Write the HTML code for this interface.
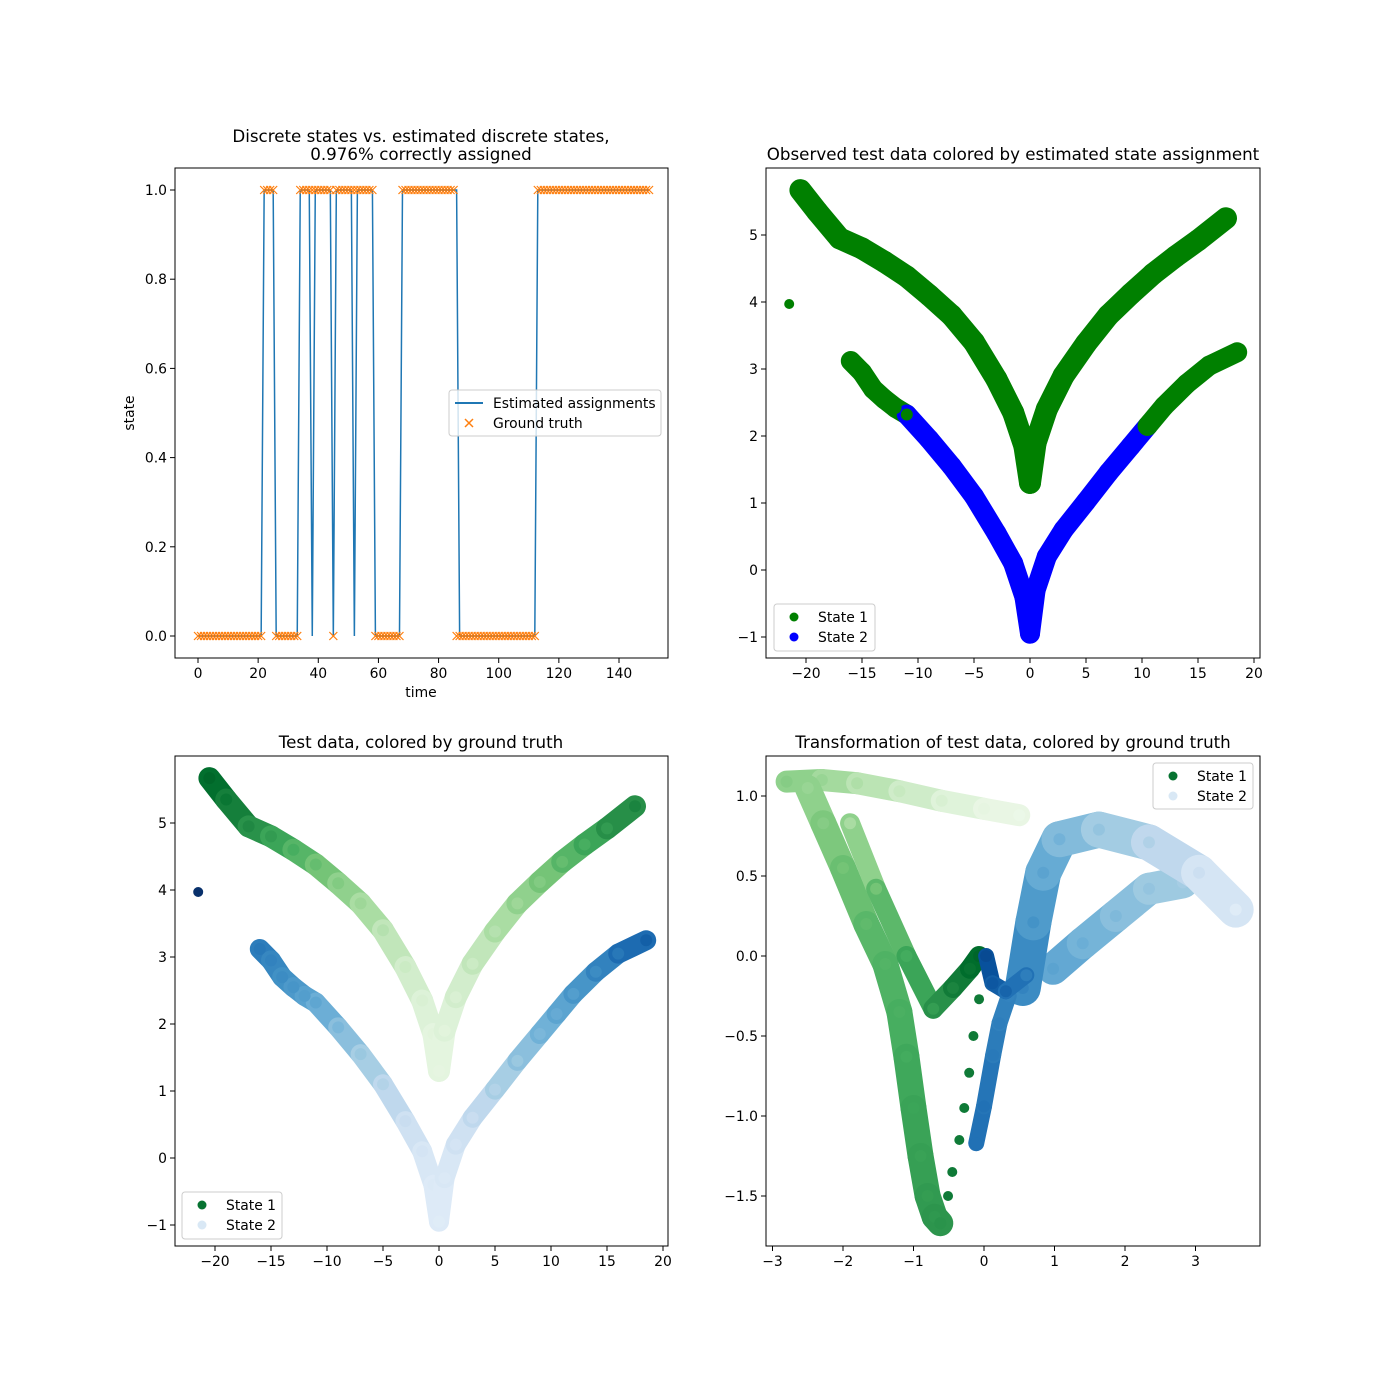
<!DOCTYPE html>
<html><head><meta charset="utf-8"><style>
body{margin:0;background:#fff}
svg{display:block;font-family:"DejaVu Sans","Liberation Sans",sans-serif}
</style></head><body>
<svg id="fig" width="1400" height="1400" viewBox="0 0 1400 1400" xmlns="http://www.w3.org/2000/svg">
<rect width="1400" height="1400" fill="#fff"/>
</svg>
<script>
// ---------- data: panel 1 ----------
const estStates = [0,0,0,0,0,0,0,0,0,0,0,0,0,0,0,0,0,0,0,0,0,0,1,1,1,1,0,0,0,0,0,0,0,0,1,1,1,1,0,1,1,1,1,1,1,0,1,1,1,1,1,1,0,1,1,1,1,1,1,0,0,0,0,0,0,0,0,0,1,1,1,1,1,1,1,1,1,1,1,1,1,1,1,1,1,1,1,0,0,0,0,0,0,0,0,0,0,0,0,0,0,0,0,0,0,0,0,0,0,0,0,0,0,1,1,1,1,1,1,1,1,1,1,1,1,1,1,1,1,1,1,1,1,1,1,1,1,1,1,1,1,1,1,1,1,1,1,1,1,1,1];
const truthStates = [0,0,0,0,0,0,0,0,0,0,0,0,0,0,0,0,0,0,0,0,0,0,1,1,1,1,0,0,0,0,0,0,0,0,1,1,1,1,1,1,1,1,1,1,1,0,1,1,1,1,1,1,1,1,1,1,1,1,1,0,0,0,0,0,0,0,0,0,1,1,1,1,1,1,1,1,1,1,1,1,1,1,1,1,1,1,0,0,0,0,0,0,0,0,0,0,0,0,0,0,0,0,0,0,0,0,0,0,0,0,0,0,0,1,1,1,1,1,1,1,1,1,1,1,1,1,1,1,1,1,1,1,1,1,1,1,1,1,1,1,1,1,1,1,1,1,1,1,1,1,1];
const p1XTicks = [0,20,40,60,80,100,120,140];
const p1YTicks = [0,0.2,0.4,0.6,0.8,1.0];
// ---------- data: observed branches (panels 2,3) ----------
const upLX = [-20.5,-19,-17,-15,-13,-11,-9,-7,-5,-3,-1.5,-0.5,0];
const upLY = [5.67,5.35,4.95,4.8,4.6,4.38,4.1,3.8,3.4,2.85,2.35,1.85,1.3];
const upRX = [0,0.5,1.5,3,5,7,9,11,13,15,17.5];
const upRY = [1.3,1.9,2.4,2.9,3.38,3.8,4.12,4.42,4.68,4.92,5.25];
const loLX = [-16,-15,-14,-13,-12,-11,-9,-7,-5,-3,-1.5,-0.5,0];
const loLY = [3.12,2.95,2.7,2.55,2.42,2.32,1.95,1.55,1.1,0.55,0.1,-0.4,-0.95];
const loRX = [0,0.5,1.5,3,5,7,9,10.5,12,14,16,18.5];
const loRY = [-0.95,-0.3,0.2,0.6,1.02,1.45,1.85,2.15,2.45,2.78,3.05,3.25];
const outX = [-21.5];
const outY = [3.97];
const estSplitLeft = -11;
const estSplitRight = 10.5;
const p2XTicks = [-20,-15,-10,-5,0,5,10,15,20];
const p2YTicks = [-1,0,1,2,3,4,5];
// ---------- data: transformation (panel 4) ----------
const tAX = [-2.8,-2.3,-1.8,-1.2,-0.6,0,0.5];
const tAY = [1.09,1.1,1.08,1.03,0.97,0.92,0.88];
const tAC = [0.45,0.4,0.33,0.25,0.18,0.12,0.08];
const tBX = [-2.5,-2.28,-2.0,-1.67,-1.4,-1.2,-1.1,-1.0,-0.9,-0.8,-0.7,-0.62];
const tBY = [1.05,0.83,0.55,0.2,-0.05,-0.35,-0.63,-0.95,-1.25,-1.5,-1.63,-1.67];
const tBC = [0.4,0.45,0.5,0.55,0.58,0.6,0.62,0.65,0.66,0.68,0.7,0.72];
const tCX = [-1.9,-1.53,-1.1,-0.72,-0.44,-0.2,-0.07];
const tCY = [0.83,0.42,0,-0.33,-0.2,-0.08,0];
const tCC = [0.35,0.5,0.62,0.68,0.78,0.85,0.9];
const tDX = [-0.51,-0.45,-0.35,-0.28,-0.21,-0.15,-0.07];
const tDY = [-1.5,-1.35,-1.15,-0.95,-0.73,-0.5,-0.27];
const tEX = [-0.11,0,0.13,0.22,0.35];
const tEY = [-1.17,-0.94,-0.62,-0.42,-0.25];
const tEC = [0.75,0.75,0.72,0.7,0.68];
const tFX = [0.03,0.12,0.31,0.6];
const tFY = [0,-0.17,-0.22,-0.12];
const tFC = [0.9,0.85,0.8,0.7];
const tGX = [0.55,0.7,0.84,1.07,1.63,2.34,3.05,3.57];
const tGY = [-0.2,0.21,0.52,0.73,0.79,0.71,0.52,0.29];
const tGC = [0.68,0.62,0.55,0.48,0.4,0.32,0.22,0.12];
const tHX = [0.98,1.4,1.87,2.34,2.82];
const tHY = [-0.08,0.08,0.25,0.42,0.46];
const tHC = [0.55,0.5,0.45,0.4,0.35];
const p4XTicks = [-3,-2,-1,0,1,2,3];
const p4YTicks = [-1.5,-1.0,-0.5,0.0,0.5,1.0];

// ---------- helpers ----------
const NS = "http://www.w3.org/2000/svg";
const svg = document.getElementById('fig');
function mk(tag, attrs, parent){ const e=document.createElementNS(NS,tag); for(const k in attrs) e.setAttribute(k,attrs[k]); (parent||svg).appendChild(e); return e; }
function txt(s, attrs, parent){ const e=mk('text',attrs,parent); e.textContent=s; return e; }
function lin(d0,d1,r0,r1){ return v=> r0+(v-d0)*(r1-r0)/(d1-d0); }
const greens=[[247,252,245],[229,245,224],[199,233,192],[161,217,155],[116,196,118],[65,171,93],[35,139,69],[0,109,44],[0,68,27]];
const blues=[[247,251,255],[222,235,247],[198,219,239],[158,202,225],[107,174,214],[66,146,198],[33,113,181],[8,81,156],[8,48,107]];
function cmap(st,t){ t=Math.max(0,Math.min(1,t)); const f=t*(st.length-1); const i=Math.min(st.length-2,Math.floor(f)); const u=f-i; const c=st[i].map((v,k)=>Math.round(v+(st[i+1][k]-v)*u)); return `rgb(${c[0]},${c[1]},${c[2]})`; }

function axes(name, L,T,R,B, xs, ys, xt, yt, fmtX, fmtY){
  const g=mk('g',{});
  
  
  xt.forEach(v=>{ const x=xs(v);
    const t=mk('line',{x1:x,x2:x,y1:B,y2:B+5,stroke:'#000','stroke-width':1},g);
     
    const l=txt(fmtX(v),{x:x,y:B+20,'text-anchor':'middle','font-size':13.9},g);
     
  });
  yt.forEach(v=>{ const y=ys(v);
    const t=mk('line',{x1:L-5,x2:L,y1:y,y2:y,stroke:'#000','stroke-width':1},g);
     
    const l=txt(fmtY(v),{x:L-8,y:y+5,'text-anchor':'end','font-size':13.9},g);
     
  });
  const f=mk('rect',{x:L,y:T,width:R-L,height:B-T,fill:'none',stroke:'#000','stroke-width':1});
   
}
function band(g, xs, ys, X, Y, colorFn, w, r, name){
  for(let i=0;i<X.length-1;i++){
    const s=mk('line',{x1:xs(X[i]),y1:ys(Y[i]),x2:xs(X[i+1]),y2:ys(Y[i+1]),stroke:colorFn(i,true),'stroke-width':w,'stroke-linecap':'round'},g);
    
    
  }
  for(let i=0;i<X.length;i++){
    const c=mk('circle',{cx:xs(X[i]),cy:ys(Y[i]),r:r,fill:colorFn(i,false)},g);
    
    
  }
}
function legend(x,y,w,h,items){
  const g=mk('g',{});
  
  
  mk('rect',{x:x,y:y,width:w,height:h,rx:3,fill:'#fff','fill-opacity':0.8,stroke:'#ccc'},g);
  items.forEach((it,i)=>{
    const cy=y+13+i*20;
    if(it.type==='line'){ const l=mk('line',{x1:x+6,x2:x+34,y1:cy,y2:cy,stroke:it.c,'stroke-width':2},g);   }
    else if(it.type==='x'){ const p=mk('path',{d:`M${x+16},${cy-4}l8,8M${x+24},${cy-4}l-8,8`,stroke:it.c,'stroke-width':1.5},g);   }
    else { const c=mk('circle',{cx:x+20,cy:cy,r:4.5,fill:it.c},g);   }
    const t=txt(it.label,{x:x+44,y:cy+5,'font-size':13.9},g);
     
  });
}
function title(s,x,y){ const t=txt(s,{x:x,y:y,'text-anchor':'middle','font-size':16.7});   }

// ---------- panel 1 ----------
(function(){
  const L=175,T=168,R=668,B=658;
  const xs=lin(0,140,198,619), ys=lin(0,1,636,190);
  axes('state-axes',L,T,R,B,xs,ys,p1XTicks,p1YTicks,v=>String(v),v=>v.toFixed(1));
  const g=mk('g',{});
   
  const pts=estStates.map((v,i)=>xs(i)+','+ys(v)).join(' ');
  const pl=mk('polyline',{points:pts,fill:'none',stroke:'#1f77b4','stroke-width':1.5},g);
   
  truthStates.forEach((v,i)=>{ const x=xs(i), y=ys(v);
    const p=mk('path',{d:`M${x-4},${y-4}l8,8M${x+4},${y-4}l-8,8`,stroke:'#ff7f0e','stroke-width':1.2},g);
     
  });
  title('Discrete states vs. estimated discrete states,',421,142);
  title('0.976% correctly assigned',421,160);
  const xl=txt('time',{x:421,y:697,'text-anchor':'middle','font-size':13.9});  
  const yl=txt('state',{x:0,y:0,'text-anchor':'middle','font-size':13.9,transform:'translate(134,413) rotate(-90)'});  
  legend(449,390,212,46,[{type:'line',c:'#1f77b4',label:'Estimated assignments'},{type:'x',c:'#ff7f0e',label:'Ground truth'}]);
})();

// ---------- panel 2 ----------
(function(){
  const L=766,T=168,R=1260,B=658;
  const xs=lin(-20,20,806,1254), ys=lin(0,5,570,235);
  axes('observed-axes',L,T,R,B,xs,ys,p2XTicks,p2YTicks,v=>v<0?'\u2212'+(-v):String(v),v=>v<0?'\u2212'+(-v):String(v));
  const g=mk('g',{});
   
  const G='#008000', Bl='#0000ff';
  band(g,xs,ys,upLX,upLY,()=>G,22,6,'state1-upper-left');
  band(g,xs,ys,upRX,upRY,()=>G,22,6,'state1-upper-right');
  band(g,xs,ys,loLX,loLY,(i,s)=> (s? Math.max(loLX[i],loLX[i+1]) : loLX[i])<=estSplitLeft?G:Bl,20,6,'lower-left');
  band(g,xs,ys,loRX,loRY,(i,s)=> (s? Math.min(loRX[i],loRX[i+1]) : loRX[i])>=estSplitRight?G:Bl,20,6,'lower-right');
  band(g,xs,ys,outX,outY,()=>G,0,5,'outlier');
  title('Observed test data colored by estimated state assignment',1013,160);
  legend(774,604,101,47,[{type:'dot',c:G,label:'State 1'},{type:'dot',c:Bl,label:'State 2'}]);
})();

// ---------- panel 3 ----------
(function(){
  const L=175,T=756,R=668,B=1246;
  const xs=lin(-20,20,215,663), ys=lin(0,5,1158,823);
  axes('ground-truth-axes',L,T,R,B,xs,ys,p2XTicks,p2YTicks,v=>v<0?'\u2212'+(-v):String(v),v=>v<0?'\u2212'+(-v):String(v));
  const g=mk('g',{});
   
  const tc=x=>0.12+0.68*Math.abs(x)/18;
  const pick=(X,st)=>(i,s)=>cmap(st, s? tc((X[i]+X[i+1])/2) : tc(X[i]));
  band(g,xs,ys,upLX,upLY,pick(upLX,greens),22,6,'state1-upper-left');
  band(g,xs,ys,upRX,upRY,pick(upRX,greens),22,6,'state1-upper-right');
  band(g,xs,ys,loLX,loLY,pick(loLX,blues),20,6,'state2-lower-left');
  band(g,xs,ys,loRX,loRY,pick(loRX,blues),20,6,'state2-lower-right');
  band(g,xs,ys,outX,outY,()=>cmap(blues,1),0,5,'outlier');
  title('Test data, colored by ground truth',421,748);
  legend(182,1192,100,47,[{type:'dot',c:cmap(greens,0.85),label:'State 1'},{type:'dot',c:cmap(blues,0.15),label:'State 2'}]);
})();

// ---------- panel 4 ----------
(function(){
  const L=766,T=756,R=1260,B=1246;
  const xs=lin(0,1,984,1054.5), ys=lin(0,1,956,796);
  axes('transformation-axes',L,T,R,B,xs,ys,p4XTicks,p4YTicks,v=>v<0?'\u2212'+(-v):String(v),v=>v<0?'\u2212'+(-v).toFixed(1):v.toFixed(1));
  const g=mk('g',{});
   
  const pc=(C,st)=>(i,s)=>cmap(st, s?(C[i]+C[i+1])/2:C[i]);
  band(g,xs,ys,tAX,tAY,pc(tAC,greens),22,6,'state1-top-band');
  band(g,xs,ys,tBX,tBY,pc(tBC,greens),26,6,'state1-left-band');
  band(g,xs,ys,tCX,tCY,pc(tCC,greens),20,6,'state1-inner-band');
  band(g,xs,ys,tDX,tDY,()=>cmap(greens,0.82),0,5,'state1-dots');
  band(g,xs,ys,tHX,tHY,pc(tHC,blues),32,6,'state2-lower-band');
  band(g,xs,ys,tGX,tGY,pc(tGC,blues),36,6,'state2-upper-band');
  band(g,xs,ys,tEX,tEY,pc(tEC,blues),16,6,'state2-descending');
  band(g,xs,ys,tFX,tFY,pc(tFC,blues),16,6,'state2-loop');
  title('Transformation of test data, colored by ground truth',1013,748);
  legend(1153,763,100,46,[{type:'dot',c:cmap(greens,0.85),label:'State 1'},{type:'dot',c:cmap(blues,0.15),label:'State 2'}]);
})();
</script>
</body></html>
